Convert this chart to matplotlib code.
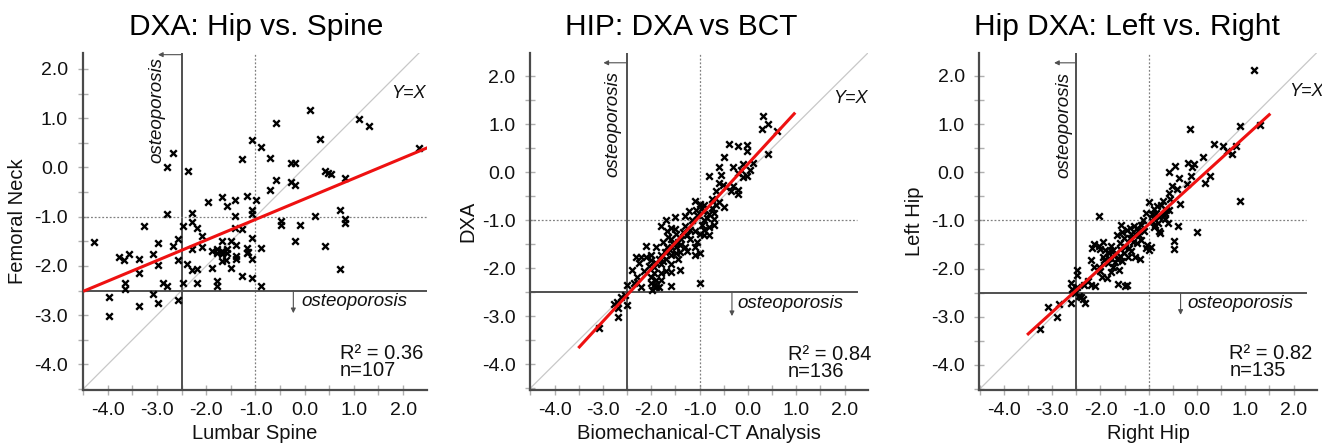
import numpy as np
import matplotlib
matplotlib.use("Agg")
import matplotlib.pyplot as plt
from matplotlib.ticker import MultipleLocator, FormatStrFormatter

plt.rcParams['font.family'] = ['Liberation Sans', 'DejaVu Sans']
plt.rcParams['axes.unicode_minus'] = False

# ---------------- data ----------------
titles = ["DXA: Hip vs. Spine", "HIP: DXA vs BCT", "Hip DXA: Left vs. Right"]
xlabels = ["Lumbar Spine", "Biomechanical-CT Analysis", "Right Hip"]
ylabels = ["Femoral Neck", "DXA", "Left Hip"]
r2_values = ["0.36", "0.84", "0.82"]
n_values = [107, 136, 135]

# regression lines: slope, intercept, x-range
fit_slope = [0.417, 1.093, 0.911]
fit_intercept = [-0.64, 0.17, -0.17]
fit_xrange = [(-4.5, 2.5), (-3.51, 0.98), (-3.52, 1.52)]

spine_neck = [
    (0.11, 1.17), (1.11, 0.99), (1.31, 0.84), (-0.58, 0.90), (0.31, 0.58), (-1.07, 0.56), (-0.88, 0.42),
    (-1.28, 0.18), (-0.70, 0.19), (-0.28, 0.10), (-0.19, 0.09), (2.33, 0.39), (-2.67, 0.30), (-2.80, 0.00),
    (-2.38, -0.08), (0.42, -0.08), (0.48, -0.11), (0.53, -0.13), (0.83, -0.21), (-0.59, -0.26), (-0.28, -0.29),
    (-0.19, -0.36), (-0.70, -0.46), (-1.68, -0.61), (-1.41, -0.66), (-1.18, -0.59), (-0.98, -0.67), (-1.97, -0.71),
    (-1.57, -0.78), (-1.07, -0.86), (-1.07, -0.95), (-1.41, -0.98), (-2.80, -0.95), (-2.29, -0.92), (-2.29, -1.10),
    (-2.48, -1.18), (-3.27, -1.19), (-2.19, -1.24), (-1.41, -1.24), (-1.28, -1.25), (-2.08, -1.39), (0.21, -0.98),
    (0.72, -0.86), (0.82, -1.05), (0.82, -1.13), (-0.48, -1.09), (-0.48, -1.17), (-0.09, -1.17), (-0.19, -1.49),
    (0.42, -1.59), (0.71, -2.07), (-4.28, -1.52), (-3.78, -1.81), (-3.67, -1.89), (-3.57, -1.76), (-3.37, -1.85),
    (-3.37, -2.15), (-3.66, -2.34), (-3.66, -2.46), (-3.08, -1.76), (-2.98, -1.54), (-2.98, -1.98), (-2.87, -2.34),
    (-2.80, -2.41), (-2.67, -1.60), (-2.58, -1.45), (-2.58, -1.87), (-2.48, -2.34), (-2.39, -1.96), (-2.29, -1.66),
    (-2.29, -2.08), (-2.19, -2.06), (-2.19, -2.34), (-2.08, -1.61), (-1.88, -2.05), (-1.78, -2.30), (-1.78, -2.41),
    (-1.88, -1.69), (-1.78, -1.74), (-1.68, -1.50), (-1.68, -1.91), (-1.68, -1.69), (-1.57, -1.66), (-1.57, -1.74),
    (-1.49, -1.50), (-1.39, -1.58), (-1.39, -1.79), (-1.39, -1.85), (-1.49, -2.05), (-1.28, -2.20), (-1.18, -1.64),
    (-1.18, -1.74), (-1.07, -1.44), (-1.07, -1.85), (-1.07, -2.24), (-0.88, -1.64), (-0.88, -2.41), (-3.98, -2.63),
    (-3.98, -3.01), (-3.37, -2.81), (-3.08, -2.58), (-2.98, -2.76), (-2.58, -2.69), (-1.78, -1.66), (-1.68, -1.76),
    (-1.60, -1.89), (-1.16, -1.71),
]

bct_dxa = [
    (0.31, 1.18), (0.41, 1.00), (0.30, 0.90), (0.60, 0.86), (0.41, 0.38), (-0.40, 0.58), (-0.21, 0.54),
    (-0.01, 0.56), (-0.01, 0.45), (-0.50, 0.31), (-0.59, 0.10), (-0.31, 0.10), (-0.11, 0.17), (0.10, 0.19),
    (-0.81, -0.08), (-0.59, -0.22), (-0.51, -0.26), (-0.31, -0.29), (-0.21, -0.01), (-0.11, -0.10), (-0.01, -0.08),
    (-0.21, -0.37), (-0.21, -0.46),
    (-0.50, -0.72), (-0.59, -0.62), (-1.10, -0.60), (-1.00, -0.67), (-0.90, -0.69), (-1.21, -0.81), (-1.08, -0.78),
    (-0.92, -0.81), (-0.80, -0.88), (-0.71, -0.85), (-0.71, -0.97), (-0.71, -1.10), (-1.31, -0.92), (-1.50, -0.94),
    (-1.70, -0.99), (-1.80, -1.12), (-0.90, -1.00), (-0.90, -1.21), (-0.80, -1.15), (-0.99, -1.28), (-0.90, -1.30),
    (-0.80, -1.30), (-1.09, -1.22), (-1.30, -1.12), (-1.60, -1.17), (-1.51, -1.19), (-1.68, -1.22), (-1.59, -1.40),
    (-1.49, -1.29), (-1.38, -1.40), (-1.19, -1.40), (-1.09, -1.56), (-1.10, -1.73), (-1.00, -1.68), (-1.68, -1.57),
    (-1.49, -1.57), (-1.40, -1.51), (-1.30, -1.57), (-1.49, -1.69), (-1.40, -1.66), (-1.59, -1.73), (-1.69, -1.80),
    (-1.80, -1.92), (-1.90, -1.56), (-2.11, -1.54), (-2.00, -1.73), (-2.11, -1.77), (-2.21, -1.77), (-2.31, -1.77),
    (-2.00, -1.83), (-1.90, -1.90), (-1.80, -1.73), (-2.40, -2.03), (-1.59, -1.92), (-1.59, -2.08), (-1.40, -2.04),
    (-2.30, -2.19), (-2.21, -2.39), (-2.00, -2.18), (-1.90, -2.25), (-2.00, -2.31), (-1.90, -2.39), (-1.99, -2.46),
    (-1.80, -2.24), (-1.59, -2.37), (-1.80, -2.10), (-1.00, -2.31), (-2.51, -2.35), (-2.62, -2.60),
    (-2.78, -2.74), (-2.68, -2.84), (-2.51, -2.76), (-2.68, -3.01), (-3.09, -3.24),
    (-0.55, -0.05), (-0.45, -0.30), (-0.35, -0.40), (-0.15, 0.05), (0.05, 0.05), (-0.65, -0.40), (-0.75, -0.55),
    (-0.95, -0.75), (-1.05, -0.90), (-1.15, -1.00), (-1.20, -1.20), (-1.25, -1.30), (-1.35, -1.25), (-1.45, -1.45),
    (-1.55, -1.50), (-1.62, -1.62), (-1.72, -1.66), (-1.75, -1.85), (-1.85, -1.80), (-1.95, -1.98), (-2.05, -1.95),
    (-2.15, -2.05), (-2.25, -1.90), (-2.35, -2.30), (-1.95, -2.10), (-1.85, -2.40), (-1.95, -2.35), (-1.70, -2.05),
    (-1.45, -1.80), (-1.25, -1.65), (-1.05, -1.45), (-0.95, -1.10), (-0.85, -0.95), (-0.75, -0.75), (-0.65, -0.68),
    (-2.55, -2.55), (-2.70, -2.70), (-1.65, -1.35), (-1.75, -1.45),
]

right_left = [
    (1.19, 2.12), (0.89, 0.96), (1.30, 0.98), (-0.15, 0.89), (0.36, 0.58), (0.53, 0.55), (0.62, 0.43),
    (0.72, 0.38), (0.81, 0.55), (0.13, 0.31), (-0.18, 0.20), (-0.06, 0.16), (-0.10, 0.10), (-0.46, 0.12),
    (-0.58, 0.00), (-0.38, -0.11), (-0.12, -0.08), (0.27, -0.08), (0.16, -0.22), (-0.21, -0.25), (-0.52, -0.28),
    (-0.42, -0.35), (-0.58, -0.44), (-0.35, -0.67), (0.90, -0.59), (-0.58, -0.78),
    (-0.99, -0.61), (-0.82, -0.71), (-0.90, -0.77), (-0.74, -0.68), (-0.65, -0.78), (-0.69, -0.89), (-0.78, -0.94),
    (-0.67, -0.98), (-0.89, -0.98), (-0.61, -1.06), (-0.78, -1.23), (-0.90, -1.13), (-1.11, -1.00), (-1.09, -1.21),
    (-2.03, -0.91), (-1.58, -1.10), (-1.39, -1.16), (-1.30, -1.11), (-1.22, -1.21), (-1.29, -1.28), (-1.37, -1.28),
    (-1.15, -1.41), (-1.51, -1.36), (-1.59, -1.46), (-1.66, -1.30), (-1.50, -1.56), (-1.37, -1.63), (-1.29, -1.75),
    (-1.18, -1.81), (-1.43, -1.75), (-1.59, -1.74), (-1.79, -1.54), (-1.82, -1.68), (-1.91, -1.61), (-2.01, -1.60),
    (-1.94, -1.75), (-1.84, -1.89), (-1.75, -1.96), (-1.79, -2.08), (-1.96, -2.17), (-2.17, -1.58), (-2.20, -1.82),
    (-2.13, -1.96), (-1.03, -1.51), (-0.96, -1.56), (-0.99, -1.61), (-1.06, -1.58), (-1.64, -2.32), (-1.50, -2.36),
    (-1.44, -2.34), (-2.48, -2.03), (-2.48, -2.13), (-2.60, -2.30), (-2.49, -2.39), (-2.40, -2.58), (-2.31, -2.72),
    (-2.60, -2.71), (-2.86, -2.73), (-3.09, -2.79), (-2.35, -2.34), (-0.40, -1.11), (-0.47, -1.42), (-0.47, -1.60),
    (-0.01, -1.25),
    (-2.91, -3.01), (-3.25, -3.26), (-2.37, -2.63), (-2.03, -1.97), (-2.11, -2.37), (-2.20, -2.34), (-1.87, -2.20),
    (-1.62, -2.02), (-1.70, -1.87), (-1.51, -1.68), (-1.70, -1.72), (-1.92, -1.82), (-2.13, -1.50), (-2.03, -1.54),
    (-0.76, -1.27), (-0.86, -1.09), (-0.94, -1.02), (-0.66, -0.85), (-0.94, -0.86), (-1.39, -1.37), (-1.24, -1.47),
    (-1.41, -1.58), (-1.82, -1.78), (-2.58, -2.43), (-2.44, -2.57),
    (-1.45, -1.20), (-1.55, -1.25), (-1.25, -1.15), (-1.15, -1.10), (-1.05, -0.85), (-0.85, -0.85), (-1.60, -1.60),
    (-1.75, -1.62), (-1.65, -1.80), (-1.85, -1.65), (-2.00, -2.05), (-1.55, -1.85), (-1.33, -1.45), (-1.20, -1.30),
    (-0.70, -0.60), (-0.55, -0.55), (-0.80, -1.05), (-2.25, -2.25), (-2.52, -2.50), (-1.95, -1.45),
]

datasets = [spine_neck, bct_dxa, right_left]

# ---------------- layout ----------------
W, H = 1322, 444
fig = plt.figure(figsize=(W / 100, H / 100), dpi=100)

axes_px = [(82.7, 426.7), (530.0, 867.7), (979.3, 1316.7)]
top_px, bot_px = 52.7, 390.0
ylims = [(-4.52, 2.33), (-4.54, 2.49), (-4.52, 2.48)]
hline_end = [2.48, 2.26, 2.26]
title_x = [256, 681, 1127]
ylabel_x = [18, 468, 915]

topann = [  # arrow tip x, arrow y, text x
    (-2.98, 2.29, -3.0), (-2.99, 2.28, -2.80), (-2.96, 2.27, -2.76)]
topann_y0 = [0.09, -0.10, -0.13]
botann = [(-0.23, -2.96, -0.06, -2.73), (-0.33, -3.0, -0.22, -2.74), (-0.34, -2.96, -0.20, -2.72)]
yx_pos = [(2.45, 1.51), (2.48, 1.54), (2.62, 1.67)]
stat_pos = [(0.72, -3.78), (0.82, -3.81), (0.67, -3.76)]

for i in range(3):
    l, r = axes_px[i]
    ax = fig.add_axes([l / W, 1 - bot_px / H, (r - l) / W, (bot_px - top_px) / H])
    ax.set_xlim(-4.51, 2.48)
    ax.set_ylim(*ylims[i])
    for s in ['top', 'right']:
        ax.spines[s].set_visible(False)
    for s in ['left', 'bottom']:
        ax.spines[s].set_color('#4a4a4a')
        ax.spines[s].set_linewidth(1.6)
    ax.xaxis.set_major_locator(MultipleLocator(1.0))
    ax.yaxis.set_major_locator(MultipleLocator(1.0))
    ax.xaxis.set_minor_locator(MultipleLocator(0.5))
    ax.yaxis.set_minor_locator(MultipleLocator(0.5))
    ax.xaxis.set_major_formatter(FormatStrFormatter('%.1f'))
    ax.yaxis.set_major_formatter(FormatStrFormatter('%.1f'))
    ax.tick_params(which='both', direction='inout', length=7, width=1.0,
                   color='#b0b0b0', labelsize=14, labelcolor='#111111', pad=5)
    ax.tick_params(axis='y', pad=7)

    y0, y1 = ylims[i]
    # reference lines
    ax.plot([-4.6, 2.6], [-4.6, 2.6], color='#c8c8c8', lw=0.9, zorder=1)
    ax.axvline(-2.5, color='#505050', lw=1.4, zorder=2)
    ax.axvline(-1.0, color='#808080', lw=0.9, ls=(0, (1.5, 1.5)), zorder=2)
    ax.plot([-4.51, hline_end[i]], [-2.5, -2.5], color='#505050', lw=1.4, zorder=2)
    ax.plot([-4.51, hline_end[i]], [-1.0, -1.0], color='#808080', lw=0.9, ls=(0, (1.5, 1.5)), zorder=2)

    pts = np.array(datasets[i])
    ax.scatter(pts[:, 0], pts[:, 1], marker='x', s=22, linewidths=1.7, color='black', zorder=3)

    xs = np.array(fit_xrange[i])
    ax.plot(xs, fit_slope[i] * xs + fit_intercept[i], color='#ee1111', lw=2.2, zorder=4,
            solid_capstyle='butt')

    # annotations
    tx, ty, ttx = topann[i]
    ax.annotate('', xy=(tx, ty), xytext=(-2.5, ty),
                arrowprops=dict(arrowstyle='-|>', color='#505050', lw=0.8, mutation_scale=7,
                                shrinkA=0, shrinkB=0))
    ax.text(ttx, topann_y0[i], 'osteoporosis', rotation=90, style='italic', fontsize=13.5,
            ha='center', va='bottom', color='#111111')
    bx, by, btx, bty = botann[i]
    ax.annotate('', xy=(bx, by), xytext=(bx, -2.5),
                arrowprops=dict(arrowstyle='-|>', color='#505050', lw=0.8, mutation_scale=7,
                                shrinkA=0, shrinkB=0))
    ax.text(btx, bty, 'osteoporosis', style='italic', fontsize=13.5, ha='left', va='center',
            color='#111111')
    ax.text(yx_pos[i][0], yx_pos[i][1], 'Y=X', style='italic', fontsize=13, ha='right',
            va='center', color='#111111', clip_on=False)
    ax.text(stat_pos[i][0], stat_pos[i][1], 'R² = ' + r2_values[i], fontsize=14.5,
            ha='left', va='center', color='#111111')
    ax.text(stat_pos[i][0], stat_pos[i][1] - 0.35, 'n=' + str(n_values[i]), fontsize=14.5,
            ha='left', va='center', color='#111111')

    ax.set_xlabel(xlabels[i], fontsize=14.5, color='#111111', labelpad=4)
    fig.text(ylabel_x[i] / W, 1 - 221.5 / H, ylabels[i], rotation=90, fontsize=14.5,
             ha='center', va='center', color='#111111')
    fig.text(title_x[i] / W, 1 - 27 / H, titles[i], fontsize=21.5, ha='center', va='center',
             color='black')

fig.savefig('out.png', dpi=100)
